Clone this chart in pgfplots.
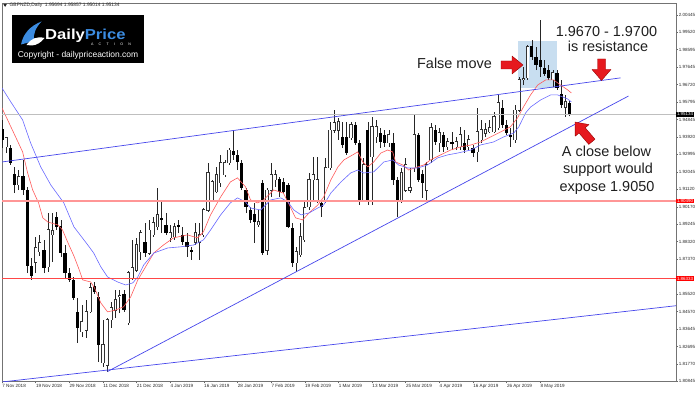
\documentclass[border=0pt]{standalone}
\usepackage{fontspec}
\setmainfont{Liberation Sans}
\newfontfamily\logofont[FakeStretch=1.15]{Liberation Sans}
\usepackage{pgfplots}
\pgfplotsset{compat=1.18}
\usepackage{pgfplotstable}

\definecolor{maRed}{RGB}{255,90,90}
\definecolor{maBlue}{RGB}{105,105,255}
\definecolor{trendBlue}{RGB}{70,70,235}
\definecolor{hlRed}{RGB}{255,70,70}
\definecolor{hlPink}{RGB}{255,150,150}
\definecolor{boxBlue}{RGB}{200,222,240}
\definecolor{arrowRed}{RGB}{230,25,30}
\definecolor{arrowEdge}{RGB}{150,0,0}
\definecolor{logoBlue}{RGB}{60,140,225}

% white (up) candles: index, open, high, low, close
\pgfplotstableread{
i o h l c
1 1.9339 1.9392 1.9306 1.9387
4 1.9135 1.9215 1.9108 1.9178
8 1.8723 1.8857 1.8664 1.8798
9 1.8777 1.8868 1.8755 1.8825
11 1.8697 1.8985 1.8670 1.8894
12 1.8868 1.8985 1.8723 1.8889
19 1.8349 1.8493 1.8322 1.8402
20 1.8359 1.8520 1.8317 1.8456
21 1.8456 1.8611 1.8450 1.8584
24 1.8183 1.8413 1.8162 1.8279
25 1.8172 1.8424 1.8135 1.8413
26 1.8413 1.8509 1.8370 1.8477
27 1.8466 1.8573 1.8424 1.8520
28 1.8536 1.8573 1.8450 1.8541
30 1.8397 1.8675 1.8386 1.8664
31 1.8638 1.8841 1.8627 1.8691
32 1.8680 1.8852 1.8670 1.8814
33 1.8777 1.8894 1.8734 1.8878
35 1.8771 1.8948 1.8761 1.8894
36 1.8868 1.8964 1.8857 1.8932
37 1.8911 1.9119 1.8894 1.8975
40 1.8852 1.8921 1.8830 1.8878
41 1.8857 1.8932 1.8841 1.8911
46 1.8830 1.8932 1.8814 1.8878
47 1.8830 1.8932 1.8734 1.8868
48 1.8868 1.9012 1.8857 1.9001
49 1.9001 1.9253 1.8991 1.9199
50 1.9055 1.9162 1.9044 1.9151
51 1.9098 1.9232 1.9092 1.9189
52 1.9146 1.9296 1.9125 1.9253
53 1.9189 1.9269 1.9178 1.9253
54 1.9253 1.9333 1.9242 1.9322
61 1.8921 1.9001 1.8911 1.8937
63 1.8787 1.9119 1.8761 1.9108
64 1.9108 1.9253 1.9071 1.9189
65 1.9162 1.9215 1.9125 1.9189
70 1.8718 1.8804 1.8670 1.8777
71 1.8761 1.8932 1.8750 1.8857
72 1.8841 1.9055 1.8830 1.9012
73 1.9018 1.9199 1.9001 1.9162
74 1.9162 1.9285 1.9055 1.9189
75 1.9055 1.9285 1.9039 1.9162
77 1.9044 1.9280 1.9039 1.9226
78 1.9226 1.9472 1.9215 1.9429
79 1.9429 1.9536 1.9413 1.9467
80 1.9429 1.9494 1.9376 1.9472
83 1.9387 1.9472 1.9376 1.9456
86 1.9055 1.9280 1.9044 1.9242
88 1.9285 1.9499 1.9028 1.9446
89 1.9392 1.9483 1.9360 1.9446
92 1.9360 1.9429 1.9339 1.9403
95 1.9055 1.9226 1.9039 1.9199
96 1.9108 1.9280 1.9098 1.9242
97 1.9108 1.9226 1.9092 1.9119
98 1.9226 1.9510 1.9205 1.9403
101 1.9108 1.9258 1.9055 1.9242
102 1.9269 1.9467 1.9253 1.9440
104 1.9360 1.9440 1.9312 1.9413
106 1.9339 1.9387 1.9322 1.9365
108 1.9339 1.9392 1.9322 1.9365
109 1.9339 1.9446 1.9322 1.9403
111 1.9339 1.9403 1.9322 1.9376
113 1.9312 1.9547 1.9258 1.9419
114 1.9376 1.9483 1.9360 1.9429
115 1.9413 1.9467 1.9392 1.9429
116 1.9419 1.9483 1.9413 1.9440
117 1.9419 1.9526 1.9413 1.9499
118 1.9440 1.9617 1.9429 1.9574
122 1.9376 1.9563 1.9360 1.9536
123 1.9536 1.9713 1.9526 1.9697
124 1.9697 1.9767 1.9670 1.9702
125 1.9708 1.9884 1.9697 1.9874
131 1.9697 1.9750 1.9660 1.9734
134 1.9552 1.9617 1.9499 1.9579
}\bull

% black (down) candles
\pgfplotstableread{
i o h l c
0 1.9435 1.9483 1.9333 1.9376
2 1.9333 1.9349 1.9242 1.9253
3 1.9189 1.9232 1.9092 1.9135
5 1.9183 1.9269 1.9082 1.9108
6 1.9108 1.9125 1.8664 1.8702
7 1.8702 1.8745 1.8627 1.8648
10 1.8787 1.8841 1.8664 1.8691
13 1.8964 1.8991 1.8894 1.8911
14 1.8911 1.8948 1.8750 1.8771
15 1.8771 1.8814 1.8638 1.8664
16 1.8664 1.8691 1.8616 1.8627
17 1.8627 1.8643 1.8520 1.8531
18 1.8456 1.8531 1.8290 1.8370
22 1.8590 1.8616 1.8552 1.8563
23 1.8531 1.8563 1.8188 1.8279
29 1.8547 1.8573 1.8456 1.8466
34 1.8830 1.8932 1.8750 1.8771
38 1.8959 1.9044 1.8878 1.8948
39 1.8921 1.8985 1.8868 1.8878
42 1.8921 1.8948 1.8878 1.8911
43 1.8868 1.8911 1.8814 1.8830
44 1.8830 1.8878 1.8750 1.8804
45 1.8787 1.8804 1.8734 1.8777
55 1.9317 1.9429 1.9269 1.9296
56 1.9296 1.9322 1.9215 1.9258
57 1.9248 1.9269 1.9108 1.9119
58 1.9108 1.9119 1.8985 1.9018
59 1.9001 1.9018 1.8932 1.8948
60 1.8975 1.9039 1.8825 1.8937
62 1.9146 1.9162 1.8761 1.8771
66 1.9167 1.9178 1.9071 1.9098
67 1.9151 1.9173 1.9092 1.9098
68 1.9135 1.9146 1.8905 1.8911
69 1.8905 1.8932 1.8697 1.8718
76 1.9039 1.9055 1.8964 1.9018
81 1.9392 1.9472 1.9333 1.9349
82 1.9392 1.9472 1.9296 1.9306
84 1.9456 1.9472 1.9349 1.9360
85 1.9360 1.9376 1.9028 1.9055
87 1.9429 1.9472 1.9028 1.9055
90 1.9413 1.9440 1.9333 1.9365
91 1.9403 1.9429 1.9339 1.9360
93 1.9360 1.9413 1.9135 1.9162
94 1.9162 1.9178 1.8964 1.9055
99 1.9403 1.9413 1.9151 1.9162
100 1.9189 1.9215 1.9066 1.9146
103 1.9429 1.9456 1.9349 1.9365
105 1.9403 1.9419 1.9312 1.9339
107 1.9365 1.9419 1.9322 1.9355
110 1.9360 1.9429 1.9306 1.9322
112 1.9333 1.9349 1.9285 1.9306
119 1.9547 1.9590 1.9440 1.9456
120 1.9456 1.9483 1.9403 1.9413
121 1.9403 1.9440 1.9339 1.9392
126 1.9874 1.9911 1.9804 1.9820
127 1.9815 1.9874 1.9750 1.9777
128 1.9804 2.0018 1.9713 1.9767
129 1.9761 1.9804 1.9718 1.9729
130 1.9750 1.9777 1.9697 1.9708
132 1.9734 1.9750 1.9644 1.9654
133 1.9617 1.9697 1.9547 1.9563
135 1.95694 1.95857 1.95014 1.95134
}\bear

\tikzset{img/.style={shift={(-2bp,381.6bp)}, x=1bp, y=-1bp}}

\begin{document}
\begin{tikzpicture}
\useasboundingbox (-2bp,-11.4bp) rectangle (698bp,381.6bp);
\begin{axis}[
  at={(0,0)}, anchor=south west,
  scale only axis, width=674bp, height=378.69bp,
  xmin=0, xmax=160.28, ymin=1.8083, ymax=2.0109,
  axis line style={draw=black!55, line width=0.6bp},
  tick align=outside, major tick length=1.8bp,
  tick style={draw=black!60, line width=0.5bp},
  xtick pos=bottom, ytick pos=right, yticklabel pos=right,
  scaled y ticks=false,
  xtick={0,8,16,24,32,40,48,56,64,72,80,88,96,104,112,120,128},
  xticklabels={7 Nov 2018,19 Nov 2018,29 Nov 2018,11 Dec 2018,21 Dec 2018,4 Jan 2019,16 Jan 2019,28 Jan 2019,7 Feb 2019,19 Feb 2019,1 Mar 2019,13 Mar 2019,25 Mar 2019,4 Apr 2019,16 Apr 2019,26 Apr 2019,8 May 2019},
  ytick={1.80845,1.81770,1.82695,1.83645,1.84570,1.85520,1.87370,1.88320,1.89245,1.90170,1.91120,1.92045,1.92995,1.93920,1.94845,1.95795,1.96720,1.97645,1.98595,1.99520,2.00445},
  yticklabels={1.80845,1.81770,1.82695,1.83645,1.84570,1.85520,1.87370,1.88320,1.89245,1.90170,1.91120,1.92045,1.92995,1.93920,1.94845,1.95795,1.96720,1.97645,1.98595,1.99520,2.00445},
  xticklabel style={font=\fontsize{4.6}{5}\selectfont, anchor=north west, inner sep=0.6bp, xshift=-0.4bp, text=black!85},
  yticklabel style={font=\fontsize{4.5}{5}\selectfont, anchor=west, inner sep=0.8bp, text=black!85},
]
% highlight box
\addplot[fill=boxBlue, draw=none, forget plot] coordinates {(122.6,1.9654) (131.9,1.9654) (131.9,1.9905) (122.6,1.9905)};

% wicks
\addplot[forget plot, draw=none, mark=none, error bars/.cd, y dir=plus, y explicit, error mark=none,
  error bar style={draw=black!85, line width=0.7bp}]
  table[x=i, y=l, y error plus expr=\thisrow{h}-\thisrow{l}] {\bull};
\addplot[forget plot, draw=none, mark=none, error bars/.cd, y dir=plus, y explicit, error mark=none,
  error bar style={draw=black!85, line width=0.7bp}]
  table[x=i, y=l, y error plus expr=\thisrow{h}-\thisrow{l}] {\bear};
% black bodies
\addplot[forget plot, draw=none, mark=none, error bars/.cd, y dir=both, y explicit, error mark=none,
  error bar style={draw=black, line width=3.2bp}]
  table[x=i, y expr={(\thisrow{o}+\thisrow{c})/2}, y error expr={abs(\thisrow{o}-\thisrow{c})/2+0.0002}] {\bear};
% white bodies: outline then fill
\addplot[forget plot, draw=none, mark=none, error bars/.cd, y dir=both, y explicit, error mark=none,
  error bar style={draw=black!80, line width=3.2bp}]
  table[x=i, y expr={(\thisrow{o}+\thisrow{c})/2}, y error expr={abs(\thisrow{o}-\thisrow{c})/2+0.00028}] {\bull};
\addplot[forget plot, draw=none, mark=none, error bars/.cd, y dir=both, y explicit, error mark=none,
  error bar style={draw=white, line width=1.8bp}]
  table[x=i, y expr={(\thisrow{o}+\thisrow{c})/2}, y error expr={abs(\thisrow{o}-\thisrow{c})/2}] {\bull};

% moving averages
\addplot[maRed, line width=0.6bp, forget plot] coordinates {
(0.0,1.9547) (2.8,1.9413) (4.9,1.9312) (6.1,1.9199) (7.3,1.9108) (8.7,1.9039) (9.7,1.8959) (10.9,1.8937) (13.3,1.8921) (14.4,1.8894) (15.6,1.8830) (17.1,1.8755) (18.2,1.8691) (19.2,1.8627) (21.1,1.8616) (22.0,1.8584) (23.5,1.8504) (25.1,1.8456) (27.0,1.8466) (28.9,1.8483) (30.6,1.8536) (32.3,1.8627) (33.7,1.8680) (36.1,1.8771) (38.4,1.8814) (40.8,1.8852) (44.1,1.8868) (46.5,1.8852) (47.9,1.8884) (49.6,1.8975) (52.0,1.9071) (54.3,1.9151) (56.0,1.9173) (57.9,1.9125) (59.1,1.9055) (60.8,1.9039) (62.2,1.9055) (64.6,1.9108) (66.9,1.9092) (68.1,1.9039) (69.8,1.8959) (71.5,1.8948) (73.0,1.8985) (75.1,1.9028) (76.5,1.9071) (78.2,1.9162) (79.9,1.9232) (81.3,1.9269) (83.4,1.9296) (84.6,1.9312) (85.8,1.9258) (87.0,1.9232) (88.4,1.9258) (90.1,1.9306) (91.7,1.9322) (92.9,1.9312) (93.6,1.9258) (95.3,1.9242) (96.7,1.9215) (98.9,1.9232) (100.3,1.9242) (101.9,1.9269) (104.3,1.9296) (106.7,1.9322) (109.1,1.9339) (111.5,1.9349) (113.8,1.9365) (116.2,1.9392) (118.6,1.9419) (120.9,1.9446) (122.6,1.9494) (124.0,1.9552) (125.7,1.9617) (127.4,1.9670) (129.3,1.9697) (131.2,1.9697) (132.8,1.9670) (134.5,1.9644) (135.4,1.9627)};
\addplot[maBlue, line width=0.6bp, forget plot] coordinates {
(0.0,1.9654) (2.1,1.9579) (4.9,1.9483) (6.8,1.9360) (9.2,1.9232) (11.6,1.9135) (14.7,1.9039) (17.1,1.8911) (20.4,1.8814) (21.8,1.8771) (23.5,1.8697) (25.1,1.8643) (27.5,1.8616) (29.4,1.8600) (31.1,1.8611) (32.3,1.8643) (33.7,1.8707) (36.1,1.8771) (39.4,1.8798) (42.5,1.8804) (45.6,1.8814) (47.9,1.8841) (49.6,1.8894) (52.0,1.8975) (54.3,1.9039) (56.0,1.9066) (57.9,1.9044) (59.1,1.9012) (61.5,1.9001) (63.9,1.9055) (66.3,1.9066) (68.0,1.9044) (69.4,1.9001) (71.1,1.8975) (73.0,1.8985) (75.1,1.9012) (76.5,1.9028) (78.2,1.9092) (80.6,1.9151) (82.9,1.9199) (84.6,1.9215) (86.0,1.9199) (88.4,1.9205) (90.8,1.9258) (92.9,1.9269) (94.3,1.9242) (96.5,1.9226) (98.9,1.9226) (101.2,1.9242) (103.6,1.9280) (106.0,1.9296) (108.4,1.9306) (111.5,1.9322) (113.8,1.9349) (116.9,1.9365) (119.3,1.9392) (121.7,1.9413) (122.9,1.9446) (124.5,1.9520) (125.7,1.9552) (128.1,1.9590) (130.5,1.9617) (132.1,1.9617) (133.3,1.9606) (134.5,1.9595) (135.4,1.9579)};

% horizontal levels
\addplot[black!25, line width=0.6bp, forget plot] coordinates {(0,1.95134) (160.28,1.95134)};
\addplot[hlPink, line width=1.3bp, forget plot] coordinates {(0,1.90490) (160.28,1.90490)};
\addplot[hlRed, line width=0.8bp, forget plot] coordinates {(0,1.86333) (160.28,1.86333)};

% trend lines
\addplot[trendBlue, line width=0.7bp, forget plot] coordinates {(0,1.9258) (147.1,1.9708)};
\addplot[trendBlue, line width=0.7bp, forget plot] coordinates {(25.1,1.8137) (149.0,1.9611)};
\addplot[trendBlue, line width=0.7bp, forget plot] coordinates {(0,1.8081) (160.28,1.8489)};
\end{axis}

\begin{scope}[img]
% price boxes on the right scale
\node[fill=red, text=white, anchor=west, inner xsep=0.8bp, inner ysep=0.9bp, font=\fontsize{4.5}{5}\selectfont] at (676,201) {1.90490};
\node[fill=red, text=white, anchor=west, inner xsep=0.8bp, inner ysep=0.9bp, font=\fontsize{4.5}{5}\selectfont] at (676,278.8) {1.86333};
\node[fill=black, text=white, anchor=west, inner xsep=0.8bp, inner ysep=0.9bp, font=\fontsize{4.5}{5}\selectfont] at (676,114.3) {1.95134};

% header
\fill[black!85] (3.3,4) -- (6.9,4) -- (5.1,6.9) -- cycle;
\node[anchor=west, inner sep=0pt, font=\fontsize{4.9}{5}\selectfont, text=black!85] at (9.5,5.6) {GBPNZD,Daily\ \ 1.95694 1.95857 1.95014 1.95134};

% logo
\fill[black] (12.3,15) rectangle (144.3,62.7);
\fill[logoBlue] (21,44.5) .. controls (23,34) and (30,26) .. (41.5,21.5) .. controls (35.5,28) and (33,34) .. (34,41) -- cycle;
\fill[white] (26.5,45) .. controls (31,38.5) and (37,36) .. (44.5,38) .. controls (41,42.5) and (37,45) .. (32,45.5) -- cycle;
\node[anchor=base west, inner sep=0pt, font=\logofont\bfseries\fontsize{14.5}{16}\selectfont] at (45,39.5) {\textcolor{white}{Daily}\textcolor{logoBlue}{Price}};
\node[anchor=center, inner sep=0pt, font=\fontsize{3.6}{4}\selectfont, text=white] at (111,44.3) {\makebox[40bp][s]{A\hfill C\hfill T\hfill I\hfill O\hfill N}};
\node[anchor=center, inner sep=0pt, font=\fontsize{8.5}{9}\selectfont, text=white] at (78,55.3) {Copyright - dailypriceaction.com};

% annotations
\node[anchor=base, inner sep=0pt, font=\fontsize{14.5}{17}\selectfont, text=black!88] at (454.5,69) {False move};
\node[anchor=base, inner sep=0pt, font=\fontsize{14.5}{17}\selectfont, text=black!88] at (606.5,36.5) {1.9670 - 1.9700};
\node[anchor=base, inner sep=0pt, font=\fontsize{14.5}{17}\selectfont, text=black!88] at (608,51.7) {is resistance};
\node[anchor=base, inner sep=0pt, font=\fontsize{14.5}{17}\selectfont, text=black!88] at (606.5,156.5) {A close below};
\node[anchor=base, inner sep=0pt, font=\fontsize{14.5}{17}\selectfont, text=black!88] at (608,174) {support would};
\node[anchor=base, inner sep=0pt, font=\fontsize{14.5}{17}\selectfont, text=black!88] at (607,191.5) {expose 1.9050};

% red arrows
\filldraw[fill=arrowRed, draw=arrowEdge, line width=0.4bp, line join=round]
  (501,61) -- (512,61) -- (512,56) -- (523,65) -- (512,74) -- (512,69) -- (501,69) -- cycle;
\filldraw[fill=arrowRed, draw=arrowEdge, line width=0.4bp, line join=round]
  (597.5,59) -- (605.5,59) -- (605.5,69.5) -- (611,69.5) -- (601.5,80.5) -- (592,69.5) -- (597.5,69.5) -- cycle;
\filldraw[fill=arrowRed, draw=arrowEdge, line width=0.4bp, line join=round]
  (575,122) -- (589.0,124.6) -- (585.2,127.8) -- (595.0,139.2) -- (588.8,144.4) -- (579.0,133.0) -- (575.2,136.2) -- cycle;
\end{scope}
\end{tikzpicture}
\end{document}
